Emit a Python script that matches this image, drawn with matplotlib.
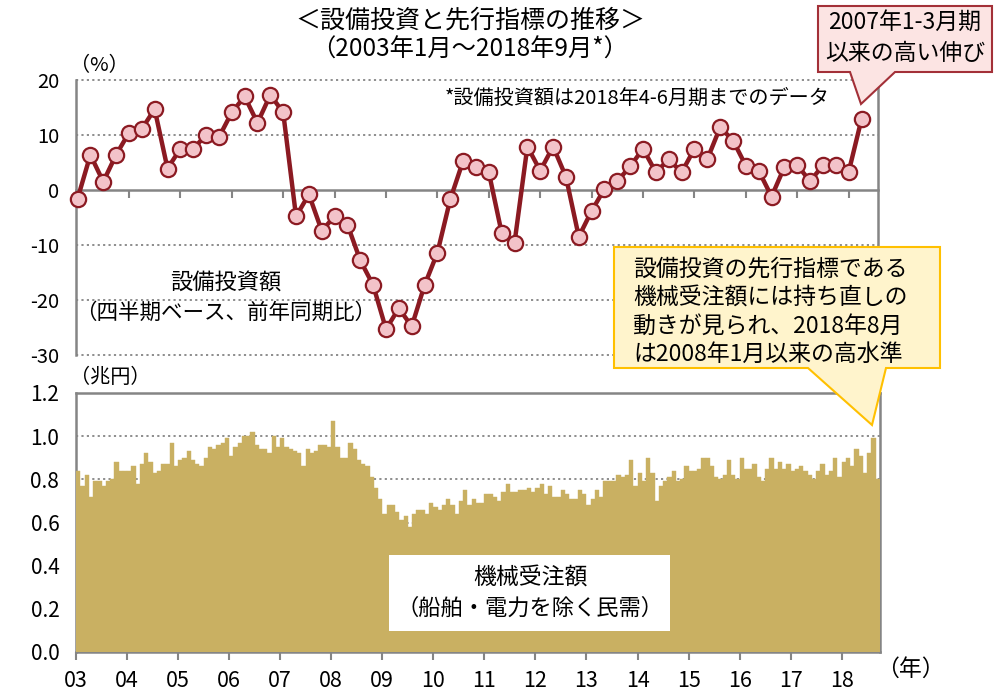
import numpy as np
import matplotlib
matplotlib.use("Agg")
import matplotlib.pyplot as plt
from matplotlib.patches import Polygon, Rectangle

plt.rcParams['font.family'] = ['Noto Sans CJK JP', 'DejaVu Sans']

W, H = 994, 693

# 設備投資額 前年同期比 (%), 2003Q1 - 2018Q2
capex_yoy = [-1.6, 6.4, 1.5, 6.4, 10.4, 11.1, 14.7, 3.9, 7.5, 7.5, 10.0, 9.6,
             14.1, 17.0, 12.2, 17.3, 14.1, -4.8, -0.8, -7.4, -4.8, -6.3, -12.8, -17.3,
             -25.3, -21.5, -24.8, -17.3, -11.4, -1.7, 5.3, 4.1, 3.2, -7.8, -9.6, 7.9,
             3.5, 7.9, 2.4, -8.5, -3.8, 0.2, 1.6, 4.3, 7.5, 3.2, 5.6, 3.2,
             7.5, 5.6, 11.4, 9.0, 4.4, 3.5, -1.2, 4.2, 4.5, 1.6, 4.5, 4.5,
             3.3, 12.9]

# 機械受注額 (兆円), 2003/1 - 2018/9
orders = [
    0.84, 0.77, 0.82, 0.72, 0.79, 0.79, 0.77, 0.79, 0.80, 0.88, 0.84, 0.84,  # 03
    0.84, 0.86, 0.78, 0.87, 0.92, 0.88, 0.83, 0.84, 0.87, 0.87, 0.97, 0.86,  # 04
    0.89, 0.90, 0.93, 0.89, 0.87, 0.86, 0.90, 0.95, 0.94, 0.96, 0.97, 0.99,  # 05
    0.91, 0.95, 0.97, 1.00, 1.00, 1.02, 0.96, 0.94, 0.94, 0.92, 1.00, 0.95,  # 06
    0.99, 0.95, 0.94, 0.93, 0.92, 0.86, 0.94, 0.92, 0.93, 0.96, 0.96, 0.95,  # 07
    1.07, 0.95, 0.90, 0.90, 0.97, 0.94, 0.89, 0.87, 0.86, 0.81, 0.76, 0.71,  # 08
    0.64, 0.68, 0.68, 0.65, 0.61, 0.63, 0.58, 0.64, 0.66, 0.66, 0.64, 0.69,  # 09
    0.67, 0.66, 0.68, 0.71, 0.68, 0.64, 0.70, 0.75, 0.68, 0.71, 0.69, 0.69,  # 10
    0.73, 0.73, 0.72, 0.70, 0.74, 0.78, 0.74, 0.74, 0.75, 0.75, 0.76, 0.74,  # 11
    0.76, 0.78, 0.73, 0.77, 0.72, 0.72, 0.75, 0.73, 0.71, 0.71, 0.75, 0.73,  # 12
    0.68, 0.71, 0.75, 0.72, 0.79, 0.79, 0.79, 0.82, 0.81, 0.82, 0.89, 0.77,  # 13
    0.83, 0.79, 0.90, 0.83, 0.70, 0.77, 0.79, 0.81, 0.84, 0.79, 0.80, 0.86,  # 14
    0.84, 0.84, 0.85, 0.90, 0.90, 0.86, 0.81, 0.80, 0.82, 0.89, 0.82, 0.80,  # 15
    0.90, 0.85, 0.85, 0.87, 0.81, 0.79, 0.85, 0.90, 0.85, 0.88, 0.85, 0.87,  # 16
    0.84, 0.85, 0.86, 0.84, 0.82, 0.80, 0.84, 0.87, 0.82, 0.84, 0.90, 0.81,  # 17
    0.88, 0.90, 0.86, 0.94, 0.91, 0.83, 0.92, 0.99, 0.80,                    # 18
]

year_labels = ['03', '04', '05', '06', '07', '08', '09', '10', '11', '12',
               '13', '14', '15', '16', '17', '18']
top_yticks = [20, 10, 0, -10, -20, -30]
bot_yticks = [0.0, 0.2, 0.4, 0.6, 0.8, 1.0, 1.2]

GREY = '#858585'
LINE_RED = '#8B1A22'
MARKER_PINK = '#F3C3C9'
BAR_GOLD = '#C9B062'
DOT = (0, (1.2, 1.8))


def fig_xy(x, y):
    return (x / W, 1 - y / H)


def ax_rect(x0, y0, x1, y1):
    return [x0 / W, 1 - y1 / H, (x1 - x0) / W, (y1 - y0) / H]


fig = plt.figure(figsize=(W / 100, H / 100), dpi=100)

# ---------- top: 設備投資額 ----------
ax1 = fig.add_axes(ax_rect(76, 80, 878, 355))
qx = np.arange(len(capex_yoy)) * 0.25
ax1.plot(qx, capex_yoy, color=LINE_RED, lw=3.2, marker='o', ms=11,
         mfc=MARKER_PINK, mec=LINE_RED, mew=1.6, clip_on=False, zorder=5)
ax1.set_xlim(-0.03, 15.57)
ax1.set_ylim(-30, 20)
ax1.set_yticks(top_yticks)
ax1.set_yticklabels([str(v) for v in top_yticks], fontsize=14.5)
for v in [20, 10, -10, -20, -30]:
    ax1.axhline(v, color=GREY, lw=1.3, ls=DOT, clip_on=False, zorder=1)
ax1.spines['top'].set_visible(False)
ax1.spines['bottom'].set_position(('data', 0))
for s in ['bottom', 'left', 'right']:
    ax1.spines[s].set_color(GREY)
    ax1.spines[s].set_linewidth(1.8)
ax1.set_xticks(np.arange(1, 16))
ax1.set_xticklabels([])
ax1.tick_params(axis='x', direction='out', length=6, width=1.5, color=GREY)
ax1.tick_params(axis='y', length=0, pad=12)

# ---------- bottom: 機械受注額 ----------
ax2 = fig.add_axes(ax_rect(76, 393, 880, 652))
mx = np.arange(len(orders)) / 12 + 1 / 24
ax2.bar(mx, orders, width=1 / 12, color=BAR_GOLD, edgecolor=BAR_GOLD,
        linewidth=0.3, zorder=3)
ax2.set_xlim(0, 15.75)
ax2.set_ylim(0, 1.2)
ax2.set_yticks(bot_yticks)
ax2.set_yticklabels([f'{v:.1f}' for v in bot_yticks], fontsize=15)
for v in bot_yticks[1:-1]:
    ax2.axhline(v, color=GREY, lw=1.3, ls=DOT, zorder=1)
for s in ax2.spines.values():
    s.set_color(GREY)
    s.set_linewidth(1.8)
ax2.set_xticks(np.arange(0, 16))
ax2.set_xticklabels(year_labels, fontsize=15.5)
ax2.tick_params(axis='x', direction='out', length=6, width=1.5, color=GREY, pad=7)
ax2.tick_params(axis='y', length=0, pad=12)

# ---------- text ----------
fig.text(*fig_xy(470, 20), '＜設備投資と先行指標の推移＞', fontsize=18,
         ha='center', va='center')
fig.text(*fig_xy(470, 50), '（2003年1月～2018年9月*）', fontsize=17.5,
         ha='center', va='center')
fig.text(*fig_xy(70, 66), '（%）', fontsize=14.5, ha='left', va='center')
fig.text(*fig_xy(70, 377), '（兆円）', fontsize=14.5, ha='left', va='center')
fig.text(*fig_xy(876, 669), '（年）', fontsize=16.5, ha='left', va='center')
fig.text(*fig_xy(445, 98), '*設備投資額は2018年4-6月期までのデータ', fontsize=14.5,
         ha='left', va='center')
fig.text(*fig_xy(226, 283), '設備投資額', fontsize=16, ha='center', va='center')
fig.text(*fig_xy(226, 313), '（四半期ベース、前年同期比）', fontsize=15.5,
         ha='center', va='center')

fig.patches.append(Rectangle(fig_xy(389, 631), (670 - 389) / W, (631 - 555) / H,
                             transform=fig.transFigure, facecolor='white',
                             edgecolor='none', zorder=2))
fig.text(*fig_xy(530, 578), '機械受注額', fontsize=16.5, ha='center', va='center',
         zorder=3)
fig.text(*fig_xy(530, 608), '（船舶・電力を除く民需）', fontsize=16, ha='center',
         va='center', zorder=3)


def callout(x0, y0, x1, y1, bl, br, tip, fc, ec):
    pts = [(x0, y0), (x1, y0), (x1, y1), (br, y1), tip, (bl, y1), (x0, y1)]
    fig.patches.append(Polygon([fig_xy(*p) for p in pts], closed=True,
                               transform=fig.transFigure, facecolor=fc,
                               edgecolor=ec, lw=1.5, zorder=6))


callout(818, 6, 992, 72, 850, 895, (861, 104), '#FCE4E3', '#A33038')
fig.text(*fig_xy(905, 22), '2007年1-3月期', fontsize=16.5, ha='center', va='center',
         zorder=7)
fig.text(*fig_xy(905, 54), '以来の高い伸び', fontsize=16.5, ha='center', va='center',
         zorder=7)

callout(614, 247, 940, 368, 808, 886, (872, 425), '#FFF4CC', '#FFC000')
notes = ['設備投資の先行指標である', '機械受注額には持ち直しの',
         '動きが見られ、2018年8月', 'は2008年1月以来の高水準']
for i, line in enumerate(notes):
    fig.text(*fig_xy(633, 270 + 28 * i), line, fontsize=16.5, ha='left',
             va='center', zorder=7)

fig.savefig('out.png', dpi=100)
